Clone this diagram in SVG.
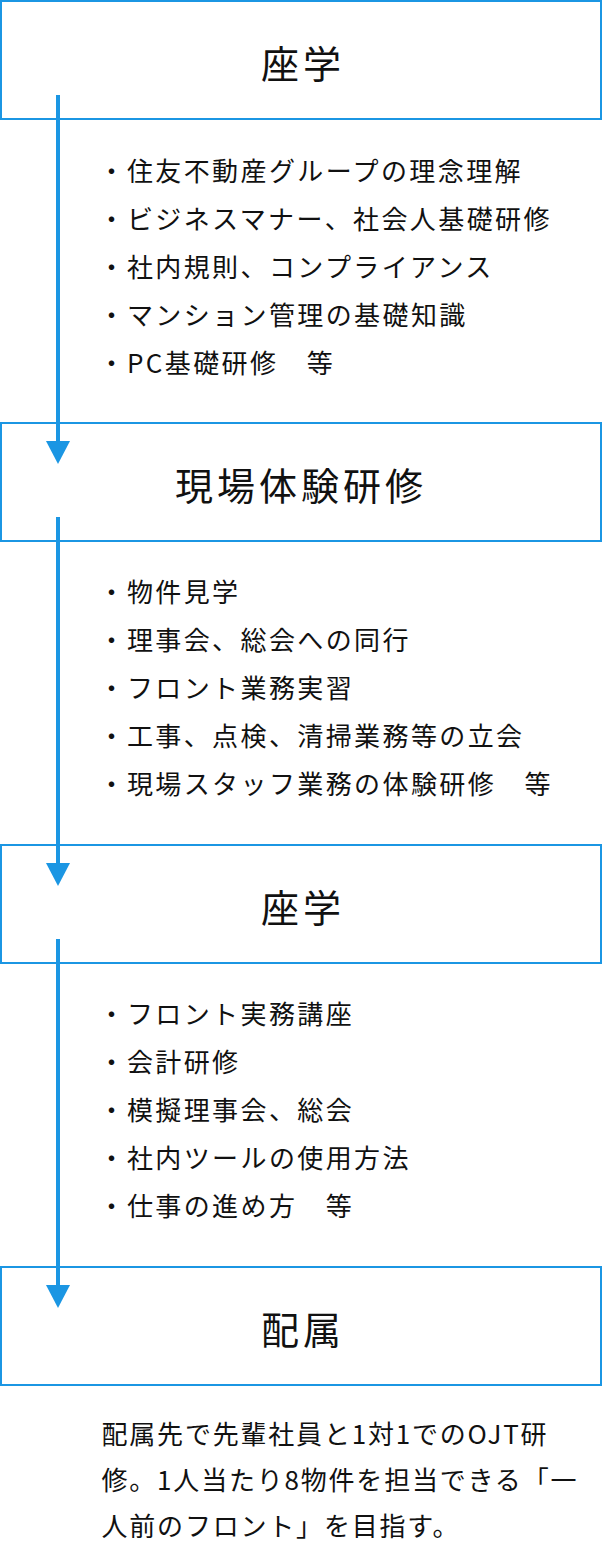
<svg xmlns="http://www.w3.org/2000/svg" width="602" height="1552" viewBox="0 0 602 1552">
<style>
.box{fill:#fff;stroke:#1b96e3;stroke-width:2}
.title{font-family:"Noto Sans CJK JP","Noto Sans",sans-serif;font-size:38px;letter-spacing:4px;fill:#111}
.item{font-family:"Noto Sans CJK JP","Noto Sans",sans-serif;font-size:26px;letter-spacing:2.4px;fill:#111}
.para{font-family:"Noto Sans CJK JP","Noto Sans",sans-serif;font-size:26px;letter-spacing:1.8px;fill:#111}
.line{stroke:#1b96e3;stroke-width:4;fill:none}
.head{fill:#1b96e3}
</style>
<rect width="602" height="1552" fill="#fff"/>
<g id="node-zagaku1">
<rect class="box" x="1" y="1" width="600" height="118"/>
<text class="title" x="261" y="78">座学</text>
</g>
<g id="node-genba">
<rect class="box" x="1" y="423" width="600" height="118"/>
<text class="title" x="175" y="500">現場体験研修</text>
</g>
<g id="node-zagaku2">
<rect class="box" x="1" y="845" width="600" height="118"/>
<text class="title" x="261" y="922">座学</text>
</g>
<g id="node-haizoku">
<rect class="box" x="1" y="1267" width="600" height="118"/>
<text class="title" x="261" y="1344">配属</text>
</g>
<g id="connectors">
<line class="line" x1="58" y1="95" x2="58" y2="442"/>
<polygon class="head" points="46,441 70,441 58,464"/>
<line class="line" x1="58" y1="517" x2="58" y2="864"/>
<polygon class="head" points="46,863 70,863 58,886"/>
<line class="line" x1="58" y1="939" x2="58" y2="1286"/>
<polygon class="head" points="46,1285 70,1285 58,1308"/>
</g>
<g id="list1">
<text class="item" x="98.5" y="181">・住友不動産グループの理念理解</text>
<text class="item" x="98.5" y="229">・ビジネスマナー、社会人基礎研修</text>
<text class="item" x="98.5" y="277">・社内規則、コンプライアンス</text>
<text class="item" x="98.5" y="325">・マンション管理の基礎知識</text>
<text class="item" x="98.5" y="373">・PC基礎研修　等</text>
</g>
<g id="list2">
<text class="item" x="98.5" y="602">・物件見学</text>
<text class="item" x="98.5" y="650">・理事会、総会への同行</text>
<text class="item" x="98.5" y="698">・フロント業務実習</text>
<text class="item" x="98.5" y="746">・工事、点検、清掃業務等の立会</text>
<text class="item" x="98.5" y="794">・現場スタッフ業務の体験研修　等</text>
</g>
<g id="list3">
<text class="item" x="98.5" y="1024">・フロント実務講座</text>
<text class="item" x="98.5" y="1072">・会計研修</text>
<text class="item" x="98.5" y="1120">・模擬理事会、総会</text>
<text class="item" x="98.5" y="1168">・社内ツールの使用方法</text>
<text class="item" x="98.5" y="1216">・仕事の進め方　等</text>
</g>
<g id="note">
<text class="para" x="101.5" y="1444">配属先で先輩社員と1対1でのOJT研</text>
<text class="para" x="101.5" y="1490">修。1人当たり8物件を担当できる「一</text>
<text class="para" x="101.5" y="1536">人前のフロント」を目指す。</text>
</g>
</svg>
